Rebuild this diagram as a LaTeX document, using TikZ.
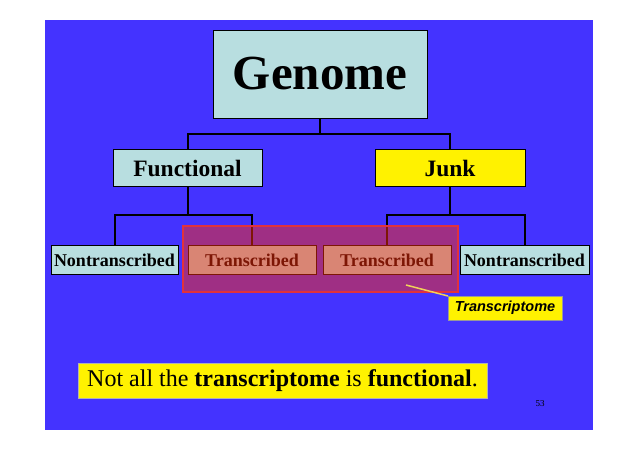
\documentclass[tikz,border=0pt]{standalone}
\usepackage{fontspec}
\setmainfont{Liberation Serif}
\newfontfamily\arialfont{Liberation Sans}
\definecolor{bgblue}{RGB}{68,51,255}
\definecolor{boxcyan}{RGB}{184,222,224}
\definecolor{ovred}{RGB}{250,45,10}
\definecolor{ovborder}{RGB}{225,50,60}
\definecolor{callout}{RGB}{240,210,90}
\begin{document}
\begin{tikzpicture}[x=1pt,y=-1pt,
  every node/.style={inner sep=0pt, outer sep=0pt},
  box/.style={draw=black, line width=0.8pt, fill=boxcyan, font=\bfseries},
  conn/.style={draw=black, line width=2pt},
]
\useasboundingbox (0,0) rectangle (638,451);
\fill[white] (0,0) rectangle (638,451);
\fill[bgblue] (45,20) rectangle (593,430);

% nodes
\node[box, minimum width=214pt, minimum height=88pt, font=\bfseries\fontsize{49}{52}\selectfont] (genome) at (320,74) {Genome};
\node[box, minimum width=149pt, minimum height=37pt, font=\bfseries\fontsize{23.5}{26}\selectfont] (functional) at (187.5,168) {Functional};
\node[box, fill=yellow, minimum width=150pt, minimum height=37pt, font=\bfseries\fontsize{23.5}{26}\selectfont] (junk) at (450,168) {Junk};
\node[box, minimum width=127pt, minimum height=29pt, font=\bfseries\fontsize{18}{20}\selectfont] (nt1) at (114.5,260) {Nontranscribed};
\node[box, minimum width=128pt, minimum height=29pt, font=\bfseries\fontsize{18}{20}\selectfont] (tr1) at (252,260) {Transcribed};
\node[box, minimum width=128pt, minimum height=29pt, font=\bfseries\fontsize{18}{20}\selectfont] (tr2) at (387,260) {Transcribed};
\node[box, minimum width=129pt, minimum height=29pt, font=\bfseries\fontsize{18}{20}\selectfont] (nt2) at (524.5,260) {Nontranscribed};

% connectors
\coordinate (j0) at (320,134);
\coordinate (j1) at (187.5,215);
\coordinate (j2) at (450,215);
\draw[conn] (genome.south) -- (j0);
\draw[conn] (j0) -| (functional.north);
\draw[conn] (j0) -| (junk.north);
\draw[conn] (functional.south) -- (j1);
\draw[conn] (j1) -| (nt1.north);
\draw[conn] (j1) -| (tr1.north);
\draw[conn] (junk.south) -- (j2);
\draw[conn] (j2) -| (tr2.north);
\draw[conn] (j2) -| (nt2.north);

% transcriptome overlay
\node[fill=ovred, fill opacity=0.5, draw=ovborder, draw opacity=1, line width=1.5pt, minimum width=275pt, minimum height=66pt] (overlay) at (320.5,259) {};

% callout
\node[draw=black!40, line width=0.4pt, fill=yellow, minimum width=114pt, minimum height=24pt, font=\arialfont\bfseries\itshape\fontsize{14.5}{16}\selectfont] (tlabel) at (505,308) {Transcriptome};
\coordinate (cp) at (406,285);
\draw[callout, line width=1.5pt] (cp) -- (tlabel.north west);

% bottom statement
\node[fill=yellow, draw=black!30, line width=0.4pt, minimum width=409pt, minimum height=35pt, font=\fontsize{24}{28}\selectfont] (stmt) at (282.5,380.5) {Not all the \textbf{transcriptome} is \textbf{functional}.};

\node[font=\fontsize{9}{10}\selectfont, text=black] (pnum) at (540,404) {53};
\end{tikzpicture}
\end{document}
